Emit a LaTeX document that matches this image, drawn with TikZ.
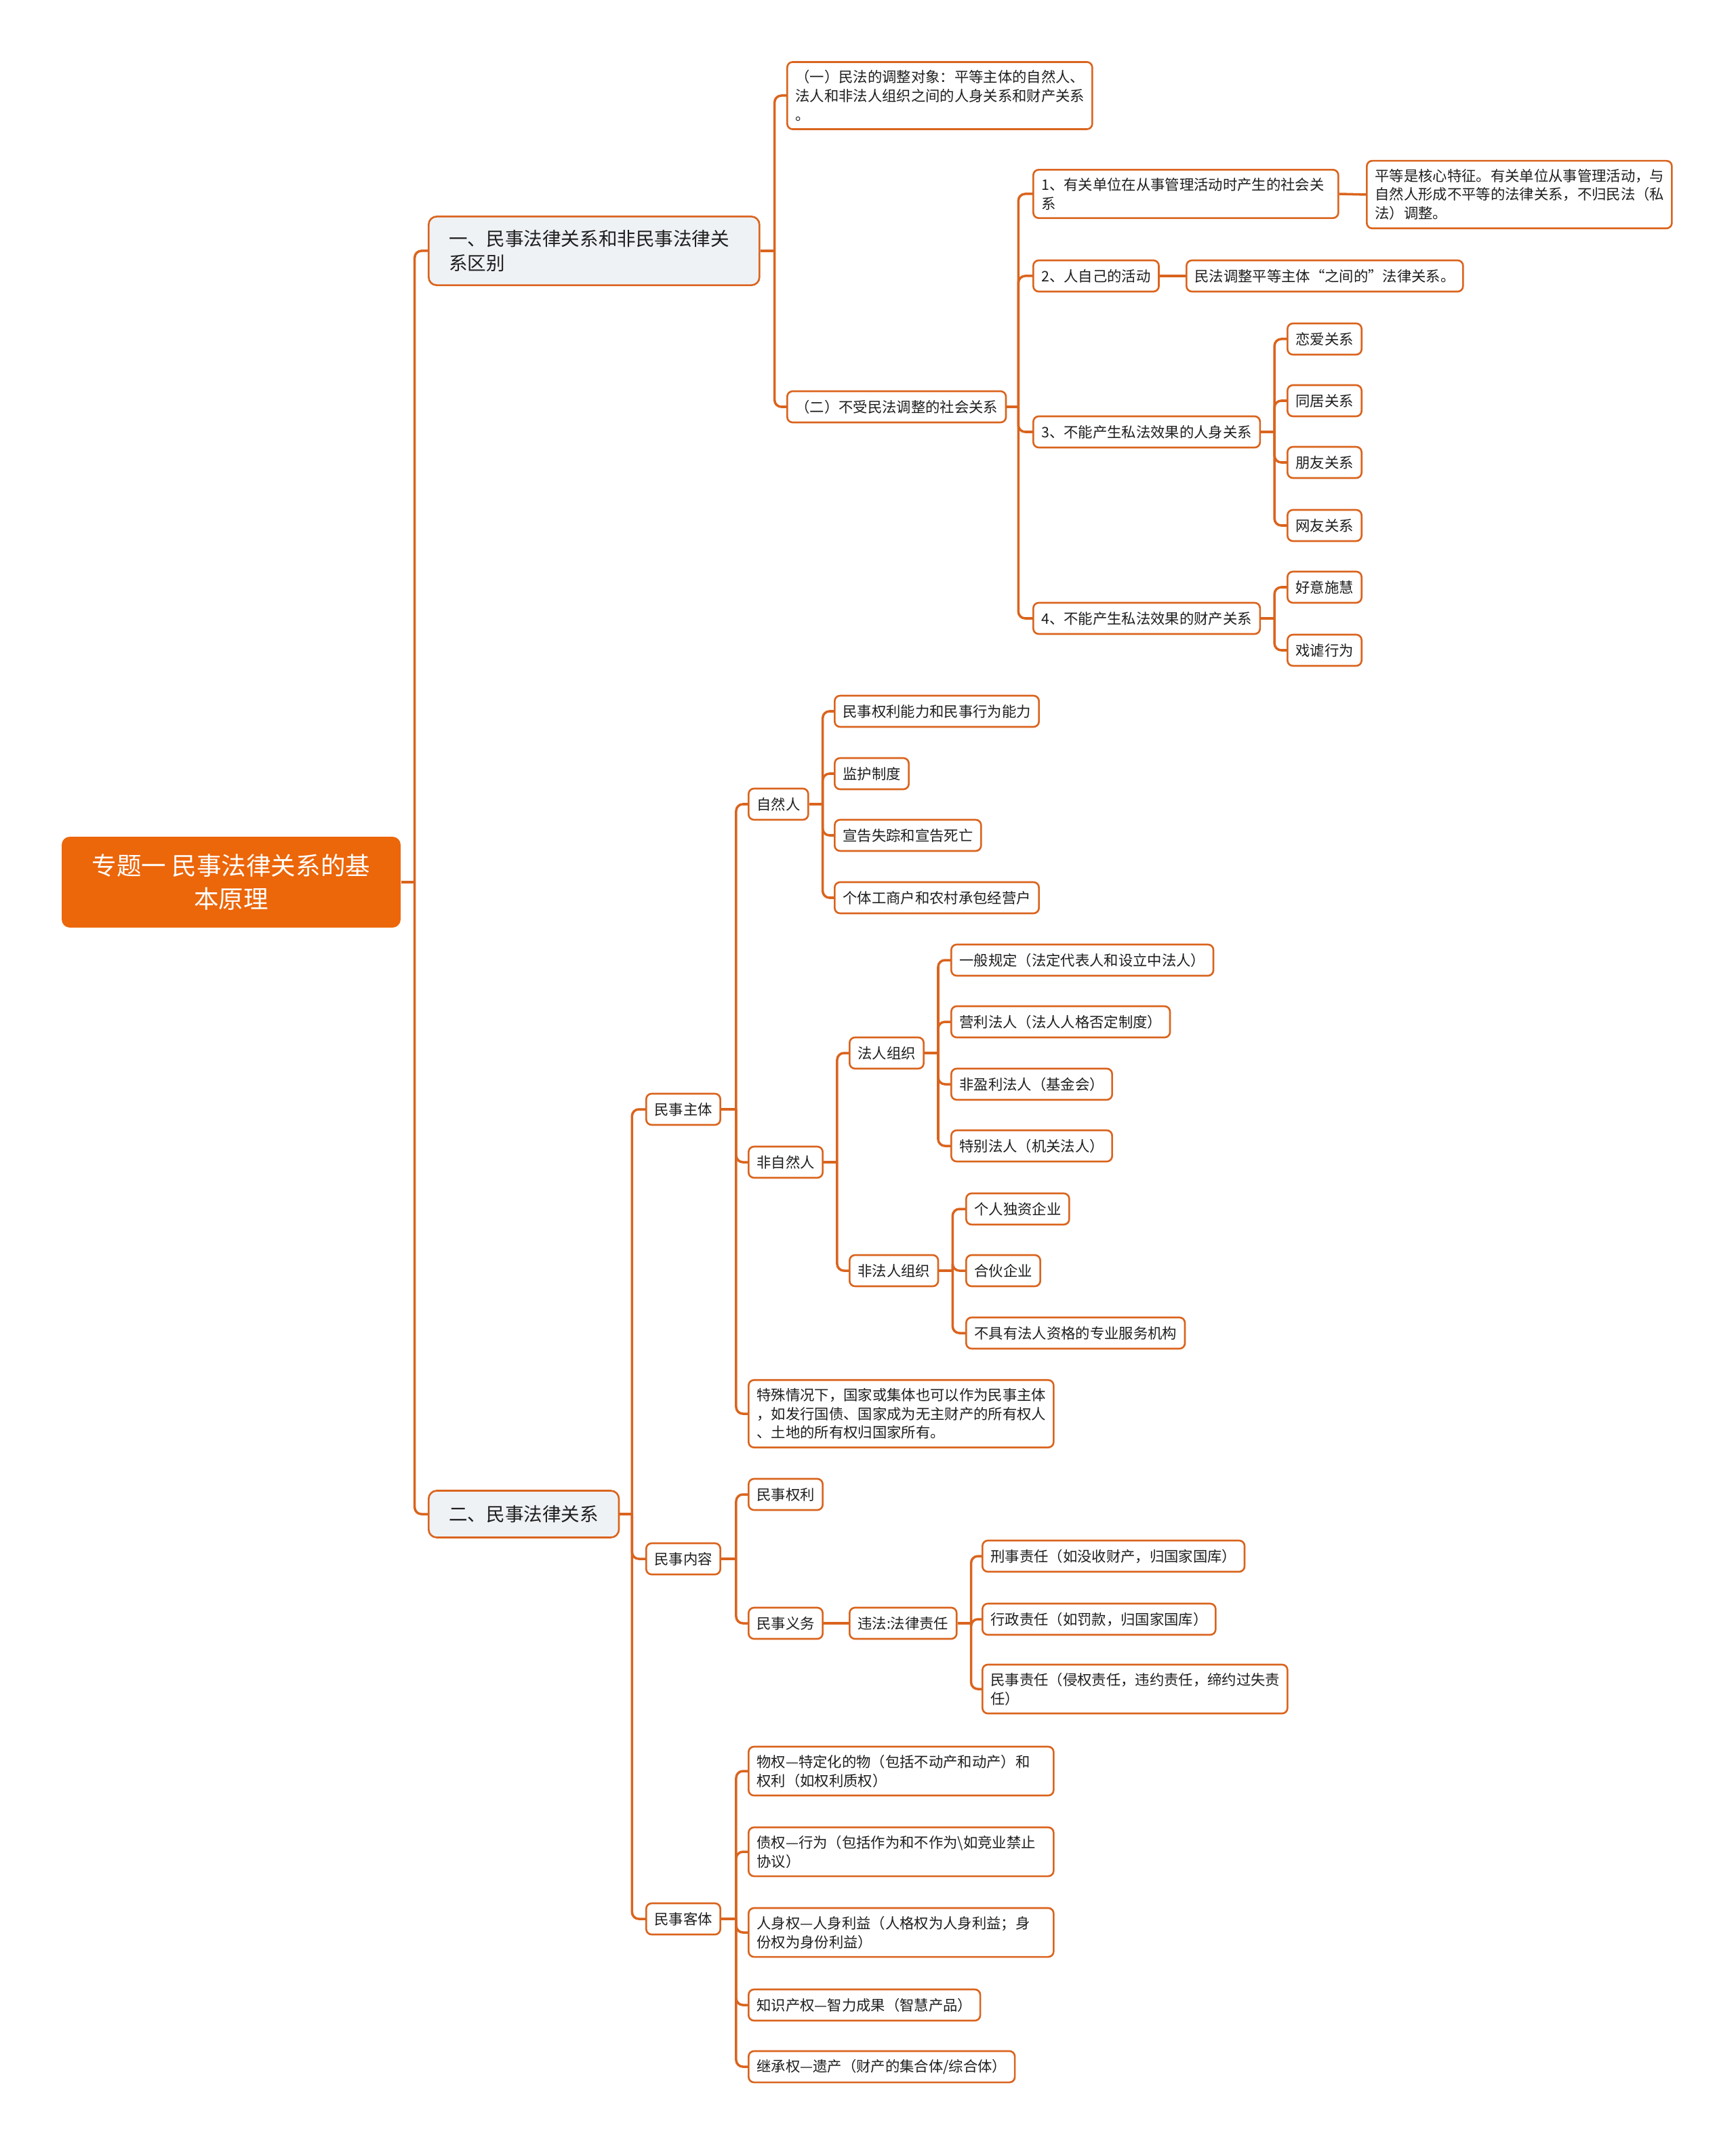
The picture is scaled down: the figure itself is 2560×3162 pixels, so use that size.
\documentclass[tikz,border=0pt]{standalone}
\usepackage{fontspec}
\setmainfont{Noto Sans CJK SC}
\usepackage{xcolor}
\usepackage{tikz}
\definecolor{mmorange}{RGB}{236,102,10}
\definecolor{mmline}{RGB}{218,100,30}
\definecolor{mmgray}{RGB}{239,242,245}
\definecolor{mmtext}{RGB}{30,30,30}
\tikzset{
  leaf/.style={draw=mmline, line width=0.75pt, rounded corners=0.8mm, fill=white, text=mmtext,
    font=\fontsize{6.07pt}{7.9pt}\selectfont, inner xsep=1.2mm, inner ysep=1.2mm,
    minimum height=4.6mm, align=left, anchor=west},
  wide/.style={leaf, text width=42.6mm},
  sect/.style={leaf, fill=mmgray, rounded corners=1.2mm, font=\fontsize{7.85pt}{10.2pt}\selectfont,
    inner xsep=3mm, inner ysep=2mm, minimum height=6.9mm},
  topic/.style={fill=mmorange, rounded corners=1.2mm, text=white, font=\fontsize{10.4pt}{14.2pt}\selectfont,
    align=center, minimum width=50mm, minimum height=13.4mm},
  link/.style={draw=mmline, line width=1pt},
  elbow/.style={link, rounded corners=1mm}
}

\begin{document}
\begin{tikzpicture}[x=0.1mm, y=-0.1mm]
\useasboundingbox (0,0) rectangle (2560,3162);
% centre and first level
\node[topic] (root) at (341,1301) {专题一 民事法律关系的基\\本原理};
\node[sect, text width=42.8mm] (qubie) at (631,370) {一、民事法律关系和非民事法律关\\系区别};
\node[sect] (guanxi) at (631,2233) {二、民事法律关系};

% branch one
\node[wide] (duixiang) at (1160,141) {（一）民法的调整对象：平等主体的自然人、\\法人和非法人组织之间的人身关系和财产关系\\。};
\node[leaf] (bushou) at (1160,600) {（二）不受民法调整的社会关系};
\node[wide] (gl1) at (1523,286) {1、有关单位在从事管理活动时产生的社会关\\系};
\node[wide] (note1) at (2015,287) {平等是核心特征。有关单位从事管理活动，与\\自然人形成不平等的法律关系，不归民法（私\\法）调整。};
\node[leaf] (gl2) at (1523,407) {2、人自己的活动};
\node[leaf] (note2) at (1749,407) {民法调整平等主体“之间的”法律关系。};
\node[leaf] (gl3) at (1523,637) {3、不能产生私法效果的人身关系};
\node[leaf] (gl4) at (1523,912) {4、不能产生私法效果的财产关系};
\node[leaf] (ren1) at (1898,500) {恋爱关系};
\node[leaf] (ren2) at (1898,591) {同居关系};
\node[leaf] (ren3) at (1898,682) {朋友关系};
\node[leaf] (ren4) at (1898,775) {网友关系};
\node[leaf] (cai1) at (1898,866) {好意施慧};
\node[leaf] (cai2) at (1898,959) {戏谑行为};

% branch two
\node[leaf] (zhuti) at (952,1636) {民事主体};
\node[leaf] (neirong) at (952,2299) {民事内容};
\node[leaf] (keti) at (952,2830) {民事客体};
\node[leaf] (ziran) at (1103,1186) {自然人};
\node[leaf] (feiziran) at (1103,1714) {非自然人};
\node[wide] (teshu) at (1103,2085) {特殊情况下，国家或集体也可以作为民事主体\\，如发行国债、国家成为无主财产的所有权人\\、土地的所有权归国家所有。};
\node[leaf] (zr1) at (1230,1049) {民事权利能力和民事行为能力};
\node[leaf] (zr2) at (1230,1141) {监护制度};
\node[leaf] (zr3) at (1230,1232) {宣告失踪和宣告死亡};
\node[leaf] (zr4) at (1230,1324) {个体工商户和农村承包经营户};
\node[leaf] (faren) at (1252,1553) {法人组织};
\node[leaf] (feifaren) at (1252,1874) {非法人组织};
\node[leaf] (fr1) at (1402,1416) {一般规定（法定代表人和设立中法人）};
\node[leaf] (fr2) at (1402,1507) {营利法人（法人人格否定制度）};
\node[leaf] (fr3) at (1402,1599) {非盈利法人（基金会）};
\node[leaf] (fr4) at (1402,1690) {特别法人（机关法人）};
\node[leaf] (ffr1) at (1424,1783) {个人独资企业};
\node[leaf] (ffr2) at (1424,1874) {合伙企业};
\node[leaf] (ffr3) at (1424,1966) {不具有法人资格的专业服务机构};
\node[leaf] (quanli) at (1103,2204) {民事权利};
\node[leaf] (yiwu) at (1103,2394) {民事义务};
\node[leaf] (zeren) at (1252,2394) {违法:法律责任};
\node[leaf] (xingshi) at (1448,2295) {刑事责任（如没收财产，归国家国库）};
\node[leaf] (xingzheng) at (1448,2388) {行政责任（如罚款，归国家国库）};
\node[wide] (minshi) at (1448,2491) {民事责任（侵权责任，违约责任，缔约过失责\\任）};
\node[wide] (kt1) at (1103,2612) {物权—特定化的物（包括不动产和动产）和\\权利（如权利质权）};
\node[wide] (kt2) at (1103,2731) {债权—行为（包括作为和不作为\textbackslash 如竞业禁止\\协议）};
\node[wide] (kt3) at (1103,2850) {人身权—人身利益（人格权为人身利益；身\\份权为身份利益）};
\node[leaf] (kt4) at (1103,2957) {知识产权—智力成果（智慧产品）};
\node[leaf] (kt5) at (1103,3048) {继承权—遗产（财产的集合体/综合体）};

% connectors
\draw[link] (root.east) -- ++(20,0) coordinate (root-t);
\foreach \c in {qubie,guanxi} \draw[elbow] (root-t) |- (\c.west);
\draw[link] (qubie.east) -- ++(21,0) coordinate (qubie-t);
\foreach \c in {duixiang,bushou} \draw[elbow] (qubie-t) |- (\c.west);
\draw[link] (bushou.east) -- ++(17,0) coordinate (bushou-t);
\foreach \c in {gl1,gl2,gl3,gl4} \draw[elbow] (bushou-t) |- (\c.west);
\draw[link] (gl1.east) -- (note1.west);
\draw[link] (gl2.east) -- (note2.west);
\draw[link] (gl3.east) -- ++(20,0) coordinate (gl3-t);
\foreach \c in {ren1,ren2,ren3,ren4} \draw[elbow] (gl3-t) |- (\c.west);
\draw[link] (gl4.east) -- ++(20,0) coordinate (gl4-t);
\foreach \c in {cai1,cai2} \draw[elbow] (gl4-t) |- (\c.west);

\draw[link] (guanxi.east) -- ++(18,0) coordinate (guanxi-t);
\foreach \c in {zhuti,neirong,keti} \draw[elbow] (guanxi-t) |- (\c.west);
\draw[link] (zhuti.east) -- ++(22,0) coordinate (zhuti-t);
\foreach \c in {ziran,feiziran,teshu} \draw[elbow] (zhuti-t) |- (\c.west);
\draw[link] (ziran.east) -- ++(20,0) coordinate (ziran-t);
\foreach \c in {zr1,zr2,zr3,zr4} \draw[elbow] (ziran-t) |- (\c.west);
\draw[link] (feiziran.east) -- ++(20,0) coordinate (feiziran-t);
\foreach \c in {faren,feifaren} \draw[elbow] (feiziran-t) |- (\c.west);
\draw[link] (faren.east) -- ++(20,0) coordinate (faren-t);
\foreach \c in {fr1,fr2,fr3,fr4} \draw[elbow] (faren-t) |- (\c.west);
\draw[link] (feifaren.east) -- ++(20,0) coordinate (feifaren-t);
\foreach \c in {ffr1,ffr2,ffr3} \draw[elbow] (feifaren-t) |- (\c.west);
\draw[link] (neirong.east) -- ++(22,0) coordinate (neirong-t);
\foreach \c in {quanli,yiwu} \draw[elbow] (neirong-t) |- (\c.west);
\draw[link] (yiwu.east) -- (zeren.west);
\draw[link] (zeren.east) -- ++(20,0) coordinate (zeren-t);
\foreach \c in {xingshi,xingzheng,minshi} \draw[elbow] (zeren-t) |- (\c.west);
\draw[link] (keti.east) -- ++(22,0) coordinate (keti-t);
\foreach \c in {kt1,kt2,kt3,kt4,kt5} \draw[elbow] (keti-t) |- (\c.west);
\end{tikzpicture}
\end{document}
